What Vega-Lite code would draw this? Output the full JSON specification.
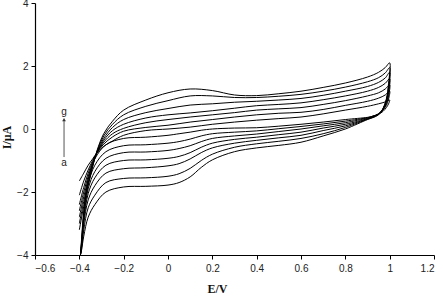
{
"$schema": "https://vega.github.io/schema/vega-lite/v6.json",
"width": 399, "height": 252,
"autosize": {"type": "none"},
"padding": {"left": 35, "top": 3, "right": 9, "bottom": 43},
"background": "white",
"config": {"view": {"stroke": null}},
"layer": [
{
"data": {"values": [
{"c":"a","E":-0.4,"I":-1.65},{"c":"a","E":-0.38,"I":-1.4},{"c":"a","E":-0.36,"I":-1.15},{"c":"a","E":-0.34,"I":-0.95},{"c":"a","E":-0.32,"I":-0.75},{"c":"a","E":-0.29,"I":-0.55},{"c":"a","E":-0.25,"I":-0.38},{"c":"a","E":-0.2,"I":-0.2},{"c":"a","E":-0.1,"I":-0.05},{"c":"a","E":0,"I":0.0},{"c":"a","E":0.1,"I":0.06},{"c":"a","E":0.2,"I":0.15},{"c":"a","E":0.3,"I":0.22},{"c":"a","E":0.4,"I":0.28},{"c":"a","E":0.5,"I":0.33},{"c":"a","E":0.6,"I":0.38},{"c":"a","E":0.7,"I":0.48},{"c":"a","E":0.8,"I":0.6},{"c":"a","E":0.9,"I":0.72},{"c":"a","E":0.95,"I":0.8},{"c":"a","E":0.98,"I":0.86},{"c":"a","E":1,"I":0.92},
{"c":"a","E":0.995,"I":0.8},{"c":"a","E":0.985,"I":0.68},{"c":"a","E":0.97,"I":0.56},{"c":"a","E":0.95,"I":0.47},{"c":"a","E":0.92,"I":0.4},{"c":"a","E":0.9,"I":0.37},{"c":"a","E":0.8,"I":0.3},{"c":"a","E":0.7,"I":0.22},{"c":"a","E":0.6,"I":0.15},{"c":"a","E":0.5,"I":0.09},{"c":"a","E":0.4,"I":0.04},{"c":"a","E":0.3,"I":0.03},{"c":"a","E":0.2,"I":0.0},{"c":"a","E":0.15,"I":-0.04},{"c":"a","E":0.1,"I":-0.1},{"c":"a","E":0.05,"I":-0.15},{"c":"a","E":0,"I":-0.2},{"c":"a","E":-0.1,"I":-0.26},{"c":"a","E":-0.2,"I":-0.3},{"c":"a","E":-0.28,"I":-0.5},{"c":"a","E":-0.33,"I":-0.95},{"c":"a","E":-0.36,"I":-1.6},{"c":"a","E":-0.38,"I":-2.6},{"c":"a","E":-0.39,"I":-3.5},{"c":"a","E":-0.395,"I":-4.0},

{"c":"b","E":-0.4,"I":-2.1},{"c":"b","E":-0.38,"I":-1.65},{"c":"b","E":-0.36,"I":-1.3},{"c":"b","E":-0.34,"I":-1.0},{"c":"b","E":-0.32,"I":-0.75},{"c":"b","E":-0.29,"I":-0.48},{"c":"b","E":-0.25,"I":-0.25},{"c":"b","E":-0.2,"I":-0.07},{"c":"b","E":-0.1,"I":0.05},{"c":"b","E":0,"I":0.12},{"c":"b","E":0.1,"I":0.22},{"c":"b","E":0.2,"I":0.3},{"c":"b","E":0.3,"I":0.38},{"c":"b","E":0.4,"I":0.45},{"c":"b","E":0.5,"I":0.5},{"c":"b","E":0.6,"I":0.53},{"c":"b","E":0.7,"I":0.62},{"c":"b","E":0.8,"I":0.75},{"c":"b","E":0.9,"I":0.88},{"c":"b","E":0.95,"I":0.98},{"c":"b","E":0.98,"I":1.08},{"c":"b","E":1,"I":1.2},
{"c":"b","E":0.995,"I":0.95},{"c":"b","E":0.985,"I":0.75},{"c":"b","E":0.97,"I":0.6},{"c":"b","E":0.95,"I":0.48},{"c":"b","E":0.92,"I":0.4},{"c":"b","E":0.9,"I":0.36},{"c":"b","E":0.8,"I":0.25},{"c":"b","E":0.7,"I":0.16},{"c":"b","E":0.6,"I":0.08},{"c":"b","E":0.5,"I":0.01},{"c":"b","E":0.4,"I":-0.06},{"c":"b","E":0.3,"I":-0.1},{"c":"b","E":0.2,"I":-0.15},{"c":"b","E":0.15,"I":-0.22},{"c":"b","E":0.1,"I":-0.32},{"c":"b","E":0.05,"I":-0.4},{"c":"b","E":0,"I":-0.45},{"c":"b","E":-0.1,"I":-0.5},{"c":"b","E":-0.2,"I":-0.53},{"c":"b","E":-0.28,"I":-0.72},{"c":"b","E":-0.33,"I":-1.15},{"c":"b","E":-0.36,"I":-1.75},{"c":"b","E":-0.38,"I":-2.7},{"c":"b","E":-0.39,"I":-3.6},{"c":"b","E":-0.395,"I":-4.0},

{"c":"c","E":-0.4,"I":-2.4},{"c":"c","E":-0.38,"I":-1.85},{"c":"c","E":-0.36,"I":-1.4},{"c":"c","E":-0.34,"I":-1.05},{"c":"c","E":-0.32,"I":-0.75},{"c":"c","E":-0.29,"I":-0.42},{"c":"c","E":-0.25,"I":-0.15},{"c":"c","E":-0.2,"I":0.02},{"c":"c","E":-0.1,"I":0.2},{"c":"c","E":0,"I":0.3},{"c":"c","E":0.1,"I":0.38},{"c":"c","E":0.2,"I":0.45},{"c":"c","E":0.3,"I":0.52},{"c":"c","E":0.4,"I":0.6},{"c":"c","E":0.5,"I":0.64},{"c":"c","E":0.6,"I":0.68},{"c":"c","E":0.7,"I":0.78},{"c":"c","E":0.8,"I":0.9},{"c":"c","E":0.9,"I":1.05},{"c":"c","E":0.95,"I":1.15},{"c":"c","E":0.98,"I":1.27},{"c":"c","E":1,"I":1.4},
{"c":"c","E":0.995,"I":1.05},{"c":"c","E":0.985,"I":0.8},{"c":"c","E":0.97,"I":0.62},{"c":"c","E":0.95,"I":0.48},{"c":"c","E":0.92,"I":0.39},{"c":"c","E":0.9,"I":0.35},{"c":"c","E":0.8,"I":0.2},{"c":"c","E":0.7,"I":0.1},{"c":"c","E":0.6,"I":0.0},{"c":"c","E":0.5,"I":-0.08},{"c":"c","E":0.4,"I":-0.16},{"c":"c","E":0.3,"I":-0.22},{"c":"c","E":0.2,"I":-0.3},{"c":"c","E":0.15,"I":-0.4},{"c":"c","E":0.1,"I":-0.53},{"c":"c","E":0.05,"I":-0.62},{"c":"c","E":0,"I":-0.68},{"c":"c","E":-0.1,"I":-0.73},{"c":"c","E":-0.2,"I":-0.75},{"c":"c","E":-0.28,"I":-0.93},{"c":"c","E":-0.33,"I":-1.35},{"c":"c","E":-0.36,"I":-1.9},{"c":"c","E":-0.38,"I":-2.8},{"c":"c","E":-0.39,"I":-3.6},{"c":"c","E":-0.395,"I":-4.0},

{"c":"d","E":-0.4,"I":-2.6},{"c":"d","E":-0.38,"I":-2.0},{"c":"d","E":-0.36,"I":-1.5},{"c":"d","E":-0.34,"I":-1.1},{"c":"d","E":-0.32,"I":-0.75},{"c":"d","E":-0.29,"I":-0.36},{"c":"d","E":-0.25,"I":-0.05},{"c":"d","E":-0.2,"I":0.15},{"c":"d","E":-0.1,"I":0.35},{"c":"d","E":0,"I":0.45},{"c":"d","E":0.1,"I":0.51},{"c":"d","E":0.2,"I":0.58},{"c":"d","E":0.3,"I":0.66},{"c":"d","E":0.4,"I":0.74},{"c":"d","E":0.5,"I":0.78},{"c":"d","E":0.6,"I":0.83},{"c":"d","E":0.7,"I":0.93},{"c":"d","E":0.8,"I":1.05},{"c":"d","E":0.9,"I":1.2},{"c":"d","E":0.95,"I":1.32},{"c":"d","E":0.98,"I":1.45},{"c":"d","E":1,"I":1.6},
{"c":"d","E":0.995,"I":1.15},{"c":"d","E":0.985,"I":0.85},{"c":"d","E":0.97,"I":0.63},{"c":"d","E":0.95,"I":0.48},{"c":"d","E":0.92,"I":0.38},{"c":"d","E":0.9,"I":0.33},{"c":"d","E":0.8,"I":0.15},{"c":"d","E":0.7,"I":0.03},{"c":"d","E":0.6,"I":-0.1},{"c":"d","E":0.5,"I":-0.18},{"c":"d","E":0.4,"I":-0.26},{"c":"d","E":0.3,"I":-0.33},{"c":"d","E":0.2,"I":-0.45},{"c":"d","E":0.15,"I":-0.58},{"c":"d","E":0.1,"I":-0.75},{"c":"d","E":0.05,"I":-0.87},{"c":"d","E":0,"I":-0.93},{"c":"d","E":-0.1,"I":-0.98},{"c":"d","E":-0.2,"I":-1.0},{"c":"d","E":-0.28,"I":-1.15},{"c":"d","E":-0.33,"I":-1.55},{"c":"d","E":-0.36,"I":-2.05},{"c":"d","E":-0.38,"I":-2.9},{"c":"d","E":-0.39,"I":-3.7},{"c":"d","E":-0.395,"I":-4.0},

{"c":"e","E":-0.4,"I":-2.8},{"c":"e","E":-0.38,"I":-2.15},{"c":"e","E":-0.36,"I":-1.6},{"c":"e","E":-0.34,"I":-1.15},{"c":"e","E":-0.32,"I":-0.72},{"c":"e","E":-0.29,"I":-0.3},{"c":"e","E":-0.25,"I":0.05},{"c":"e","E":-0.2,"I":0.3},{"c":"e","E":-0.1,"I":0.52},{"c":"e","E":0,"I":0.65},{"c":"e","E":0.1,"I":0.76},{"c":"e","E":0.2,"I":0.8},{"c":"e","E":0.3,"I":0.85},{"c":"e","E":0.4,"I":0.88},{"c":"e","E":0.5,"I":0.92},{"c":"e","E":0.6,"I":0.97},{"c":"e","E":0.7,"I":1.07},{"c":"e","E":0.8,"I":1.2},{"c":"e","E":0.9,"I":1.35},{"c":"e","E":0.95,"I":1.48},{"c":"e","E":0.98,"I":1.62},{"c":"e","E":1,"I":1.8},
{"c":"e","E":0.995,"I":1.25},{"c":"e","E":0.985,"I":0.9},{"c":"e","E":0.97,"I":0.64},{"c":"e","E":0.95,"I":0.47},{"c":"e","E":0.92,"I":0.37},{"c":"e","E":0.9,"I":0.32},{"c":"e","E":0.8,"I":0.1},{"c":"e","E":0.7,"I":-0.05},{"c":"e","E":0.6,"I":-0.2},{"c":"e","E":0.5,"I":-0.28},{"c":"e","E":0.4,"I":-0.36},{"c":"e","E":0.3,"I":-0.45},{"c":"e","E":0.2,"I":-0.6},{"c":"e","E":0.15,"I":-0.75},{"c":"e","E":0.1,"I":-0.95},{"c":"e","E":0.05,"I":-1.1},{"c":"e","E":0,"I":-1.17},{"c":"e","E":-0.1,"I":-1.23},{"c":"e","E":-0.2,"I":-1.26},{"c":"e","E":-0.28,"I":-1.4},{"c":"e","E":-0.33,"I":-1.8},{"c":"e","E":-0.36,"I":-2.25},{"c":"e","E":-0.38,"I":-3.0},{"c":"e","E":-0.39,"I":-3.7},{"c":"e","E":-0.395,"I":-4.0},

{"c":"f","E":-0.4,"I":-3.0},{"c":"f","E":-0.38,"I":-2.3},{"c":"f","E":-0.36,"I":-1.7},{"c":"f","E":-0.34,"I":-1.18},{"c":"f","E":-0.32,"I":-0.7},{"c":"f","E":-0.29,"I":-0.22},{"c":"f","E":-0.25,"I":0.15},{"c":"f","E":-0.2,"I":0.45},{"c":"f","E":-0.1,"I":0.72},{"c":"f","E":0,"I":0.9},{"c":"f","E":0.1,"I":1.05},{"c":"f","E":0.2,"I":1.05},{"c":"f","E":0.3,"I":1.0},{"c":"f","E":0.4,"I":1.0},{"c":"f","E":0.5,"I":1.04},{"c":"f","E":0.6,"I":1.1},{"c":"f","E":0.7,"I":1.2},{"c":"f","E":0.8,"I":1.33},{"c":"f","E":0.9,"I":1.5},{"c":"f","E":0.95,"I":1.63},{"c":"f","E":0.98,"I":1.78},{"c":"f","E":1,"I":1.95},
{"c":"f","E":0.995,"I":1.35},{"c":"f","E":0.985,"I":0.92},{"c":"f","E":0.97,"I":0.65},{"c":"f","E":0.95,"I":0.46},{"c":"f","E":0.92,"I":0.36},{"c":"f","E":0.9,"I":0.31},{"c":"f","E":0.8,"I":0.05},{"c":"f","E":0.7,"I":-0.15},{"c":"f","E":0.6,"I":-0.3},{"c":"f","E":0.5,"I":-0.39},{"c":"f","E":0.4,"I":-0.47},{"c":"f","E":0.3,"I":-0.58},{"c":"f","E":0.2,"I":-0.8},{"c":"f","E":0.15,"I":-1.0},{"c":"f","E":0.1,"I":-1.25},{"c":"f","E":0.05,"I":-1.42},{"c":"f","E":0,"I":-1.5},{"c":"f","E":-0.1,"I":-1.55},{"c":"f","E":-0.2,"I":-1.57},{"c":"f","E":-0.28,"I":-1.7},{"c":"f","E":-0.33,"I":-2.1},{"c":"f","E":-0.36,"I":-2.5},{"c":"f","E":-0.38,"I":-3.2},{"c":"f","E":-0.39,"I":-3.8},{"c":"f","E":-0.395,"I":-4.0},

{"c":"g","E":-0.4,"I":-3.2},{"c":"g","E":-0.38,"I":-2.45},{"c":"g","E":-0.36,"I":-1.8},{"c":"g","E":-0.34,"I":-1.2},{"c":"g","E":-0.32,"I":-0.68},{"c":"g","E":-0.29,"I":-0.15},{"c":"g","E":-0.25,"I":0.25},{"c":"g","E":-0.2,"I":0.6},{"c":"g","E":-0.1,"I":0.92},{"c":"g","E":0,"I":1.15},{"c":"g","E":0.1,"I":1.27},{"c":"g","E":0.2,"I":1.22},{"c":"g","E":0.3,"I":1.08},{"c":"g","E":0.4,"I":1.06},{"c":"g","E":0.5,"I":1.12},{"c":"g","E":0.6,"I":1.2},{"c":"g","E":0.7,"I":1.32},{"c":"g","E":0.8,"I":1.46},{"c":"g","E":0.9,"I":1.65},{"c":"g","E":0.95,"I":1.8},{"c":"g","E":0.98,"I":1.95},{"c":"g","E":1,"I":2.1},
{"c":"g","E":0.995,"I":1.45},{"c":"g","E":0.985,"I":0.95},{"c":"g","E":0.97,"I":0.65},{"c":"g","E":0.95,"I":0.45},{"c":"g","E":0.92,"I":0.35},{"c":"g","E":0.9,"I":0.3},{"c":"g","E":0.8,"I":0.0},{"c":"g","E":0.7,"I":-0.22},{"c":"g","E":0.6,"I":-0.42},{"c":"g","E":0.5,"I":-0.52},{"c":"g","E":0.4,"I":-0.6},{"c":"g","E":0.3,"I":-0.72},{"c":"g","E":0.2,"I":-0.98},{"c":"g","E":0.15,"I":-1.22},{"c":"g","E":0.1,"I":-1.52},{"c":"g","E":0.05,"I":-1.7},{"c":"g","E":0,"I":-1.78},{"c":"g","E":-0.1,"I":-1.82},{"c":"g","E":-0.2,"I":-1.84},{"c":"g","E":-0.28,"I":-2.0},{"c":"g","E":-0.33,"I":-2.4},{"c":"g","E":-0.36,"I":-2.8},{"c":"g","E":-0.38,"I":-3.4},{"c":"g","E":-0.39,"I":-3.85},{"c":"g","E":-0.395,"I":-4.0}
]},
"mark": {"type": "line", "color": "black", "strokeWidth": 1, "interpolate": "catmull-rom", "clip": true},
"encoding": {
"x": {"field": "E", "type": "quantitative", "scale": {"domain": [-0.6, 1.2], "nice": false, "zero": false},
 "axis": {"title": "E/V", "values": [-0.6,-0.4,-0.2,0,0.2,0.4,0.6,0.8,1,1.2], "format": "~g", "grid": false,
  "domainColor": "black", "domainWidth": 1.2, "tickColor": "black", "tickSize": 4, "tickWidth": 1,
  "labelFont": "Liberation Sans", "labelFontSize": 10, "labelColor": "#222", "labelPadding": 4,
  "titleFont": "Liberation Serif", "titleFontSize": 12, "titleFontWeight": "bold", "titleColor": "#111",
  "titleX": 182, "titleY": 37, "titleAlign": "center", "titleBaseline": "alphabetic"}},
"y": {"field": "I", "type": "quantitative", "scale": {"domain": [-4, 4], "nice": false},
 "axis": {"title": "I/μA", "values": [-4,-2,0,2,4], "grid": false,
  "domainColor": "black", "domainWidth": 1.2, "tickColor": "black", "tickSize": 4, "tickWidth": 1,
  "labelFont": "Liberation Sans", "labelFontSize": 10, "labelColor": "#222", "labelPadding": 3,
  "titleFont": "Liberation Serif", "titleFontSize": 12, "titleFontWeight": "bold", "titleColor": "#111",
  "titleX": -22, "titleY": 134, "titleAlign": "center", "titleAngle": -90}},
"detail": {"field": "c"},
"order": {"value": null}
}
},
{
"data": {"values": [{"E": -0.469, "I1": -0.89, "I2": 0.27}]},
"mark": {"type": "rule", "color": "#555", "strokeWidth": 1},
"encoding": {"x": {"field": "E", "type": "quantitative"}, "y": {"field": "I1", "type": "quantitative"}, "y2": {"field": "I2"}}
},
{
"data": {"values": [{"E": -0.469, "I": 0.3}]},
"mark": {"type": "point", "shape": "triangle-up", "filled": true, "color": "#333", "size": 14, "opacity": 1},
"encoding": {"x": {"field": "E", "type": "quantitative"}, "y": {"field": "I", "type": "quantitative"}}
},
{
"data": {"values": [{"E": -0.469, "I": 0.55, "t": "g"}, {"E": -0.469, "I": -1.08, "t": "a"}]},
"mark": {"type": "text", "font": "Liberation Sans", "fontSize": 10, "color": "#222", "baseline": "middle", "align": "center"},
"encoding": {"x": {"field": "E", "type": "quantitative"}, "y": {"field": "I", "type": "quantitative"}, "text": {"field": "t"}}
}
]
}
